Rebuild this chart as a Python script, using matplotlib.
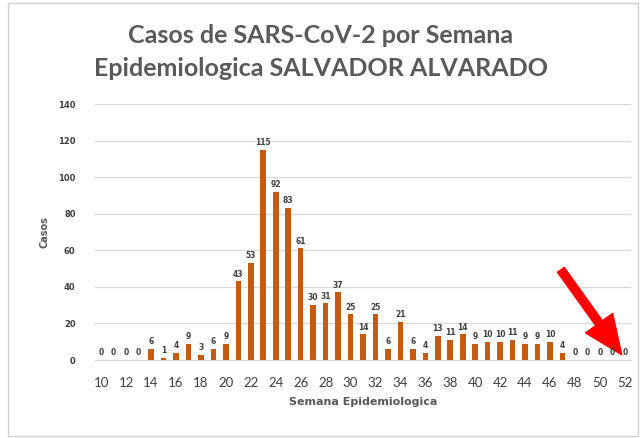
import matplotlib.pyplot as plt
from matplotlib.patches import Rectangle

semanas = list(range(10, 53))
casos = [0, 0, 0, 0, 6, 1, 4, 9, 3, 6, 9, 43, 53, 115, 92, 83, 61, 30, 31, 37,
         25, 14, 25, 6, 21, 6, 4, 13, 11, 14, 9, 10, 10, 11, 9, 9, 10, 4, 0, 0,
         0, 0, 0]
ticks_x = list(range(10, 53, 2))
ticks_y = list(range(0, 141, 20))

fig = plt.figure(figsize=(6.41, 4.38), dpi=100)
ax = fig.add_axes([95 / 641, 1 - 360 / 438, 536 / 641, 256 / 438])

ax.bar(semanas, casos, width=0.45, color='#C55A11', zorder=3)
for s, c in zip(semanas, casos):
    ax.text(s, c + 1.5, str(c), ha='center', va='bottom', fontsize=5.5,
            fontweight='bold', color='#404040', zorder=4)

ax.set_xlim(9.5, 52.5)
ax.set_ylim(0, 140)
ax.set_xticks(ticks_x)
ax.set_yticks(ticks_y)
ax.tick_params(axis='x', labelsize=9.5, colors='#404040', length=0, pad=12)
ax.tick_params(axis='y', labelsize=6, colors='#404040', length=0, pad=14)
for lbl in ax.get_xticklabels():
    lbl.set_family('Lato')
for lbl in ax.get_yticklabels():
    lbl.set_fontweight('bold')
ax.grid(axis='y', color='#D9D9D9', linewidth=0.9, zorder=0)
for sp in ['top', 'right', 'left']:
    ax.spines[sp].set_visible(False)
ax.spines['bottom'].set_color('#D9D9D9')

ax.set_xlabel('Semana Epidemiologica', fontsize=8, fontweight='bold',
              color='#595959', labelpad=6)
ax.set_ylabel('Casos', fontsize=7, fontweight='bold', color='#595959', labelpad=6)

fig.text(0.5, 1 - 52 / 438, 'Casos de SARS-CoV-2 por Semana\nEpidemiologica SALVADOR ALVARADO',
         ha='center', va='center', fontsize=18, fontweight='bold',
         color='#595959', linespacing=1.55, family='Lato')

# red arrow pointing at week 52
ax.annotate('', xy=(0.970, 0.190), xytext=(0.875, 0.384),
            xycoords='figure fraction', textcoords='figure fraction',
            arrowprops=dict(facecolor='#FF0000', edgecolor='#FF0000',
                            width=6, headwidth=24, headlength=28))

# chart border
fig.patches.append(Rectangle((8 / 641, 2 / 438), 630 / 641, 433 / 438,
                             transform=fig.transFigure, fill=False,
                             edgecolor='#D0D0D0', linewidth=1))

fig.savefig('out.png', dpi=100)
